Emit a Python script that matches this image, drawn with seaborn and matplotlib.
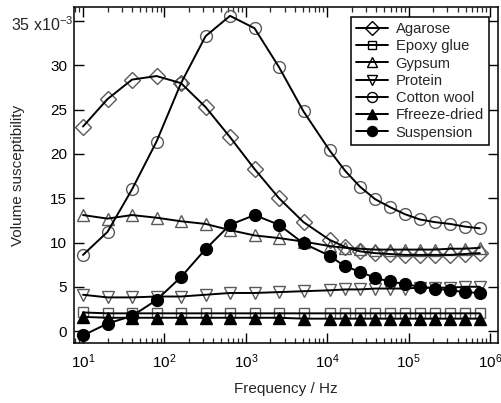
import matplotlib
matplotlib.use("Agg")
import matplotlib.pyplot as plt
from matplotlib.lines import Line2D
from matplotlib.ticker import LogLocator, NullFormatter
import seaborn as sns
import pandas as pd

# ---------------- data (volume susceptibility, x10^-3) ----------------
freq_low = [10, 20, 40, 80, 160, 320, 640, 1280, 2560, 5120]
freq_high = [1.07e4, 1.66e4, 2.53e4, 3.87e4, 5.9e4, 9.0e4, 1.38e5, 2.11e5, 3.23e5, 4.9e5, 7.5e5]

agarose = [23.1, 26.2, 28.4, 28.8, 28.0, 25.3, 21.9, 18.3, 15.0, 12.3,
           10.3, 9.5, 9.0, 8.8, 8.7, 8.6, 8.6, 8.6, 8.6, 8.7, 8.8]
epoxy = [2.1, 2.0, 2.0, 2.0, 2.0, 2.0, 2.0, 2.0, 2.0, 2.0,
         2.0, 2.0, 2.0, 2.0, 2.0, 2.0, 2.0, 2.0, 2.0, 2.0, 2.0]
gypsum = [13.1, 12.7, 13.1, 12.8, 12.4, 12.1, 11.4, 10.8, 10.5, 10.1,
          9.6, 9.4, 9.3, 9.2, 9.2, 9.2, 9.2, 9.2, 9.3, 9.3, 9.4]
protein = [4.1, 3.8, 3.8, 3.9, 3.9, 4.1, 4.3, 4.3, 4.4, 4.5,
           4.6, 4.7, 4.7, 4.8, 4.8, 4.8, 4.9, 4.9, 4.9, 5.0, 5.0]
cotton = [8.6, 11.2, 16.0, 21.4, 28.0, 33.3, 35.6, 34.2, 29.8, 24.8,
          20.4, 18.1, 16.3, 14.9, 14.0, 13.2, 12.6, 12.3, 12.1, 11.8, 11.6]
freeze = [1.6, 1.5, 1.5, 1.5, 1.5, 1.5, 1.5, 1.5, 1.5, 1.4,
          1.4, 1.4, 1.4, 1.4, 1.4, 1.4, 1.4, 1.4, 1.4, 1.4, 1.4]
suspension = [-0.5, 0.85, 1.7, 3.5, 6.1, 9.25, 12.0, 13.1, 12.0, 9.9,
              8.5, 7.3, 6.7, 6.0, 5.6, 5.3, 5.0, 4.8, 4.6, 4.4, 4.3]

series_names = ["Agarose", "Epoxy glue", "Gypsum", "Protein", "Cotton wool",
                "Ffreeze-dried", "Suspension"]
series_values = [agarose, epoxy, gypsum, protein, cotton, freeze, suspension]
x_tick_values = [1e1, 1e2, 1e3, 1e4, 1e5, 1e6]
y_tick_values = [0, 5, 10, 15, 20, 25, 30, 35]
y_tick_labels = ["0", "5", "10", "15", "20", "25", "30", ""]
top_label = "35 x10$^{-3}$"

# ---------------- styles ----------------
styles = {
    "Agarose": dict(marker="D", ms=8.0, mfc="none"),
    "Epoxy glue": dict(marker="s", ms=7.5, mfc="none"),
    "Gypsum": dict(marker="^", ms=8.5, mfc="none"),
    "Protein": dict(marker="v", ms=8.5, mfc="none"),
    "Cotton wool": dict(marker="o", ms=8.5, mfc="none"),
    "Ffreeze-dried": dict(marker="^", ms=8.5, mfc="black"),
    "Suspension": dict(marker="o", ms=8.5, mfc="black"),
}

sns.set_theme(style="ticks")
plt.rcParams["font.family"] = ["Liberation Sans", "DejaVu Sans"]
plt.rcParams["mathtext.fontset"] = "custom"
plt.rcParams["mathtext.rm"] = "Liberation Sans"
plt.rcParams["mathtext.it"] = "Liberation Sans:italic"
plt.rcParams["mathtext.bf"] = "Liberation Sans:bold"

freq_all = freq_low + freq_high
rows = []
for name, vals in zip(series_names, series_values):
    for f, v in zip(freq_all, vals):
        rows.append({"series": name, "freq": f, "chi": v})
df = pd.DataFrame(rows)

fig = plt.figure(figsize=(5.01, 4.03), dpi=100)
ax = fig.add_axes([74 / 501, 1 - 343 / 403, (498 - 74) / 501, (343 - 7) / 403])
ax.set_xscale("log")

gray = "#5a5a5a"
for name in series_names:
    sub = df[df["series"] == name]
    st = styles[name]
    edge = "black" if st["mfc"] == "black" else gray
    sns.lineplot(data=sub, x="freq", y="chi", ax=ax, color="black", lw=1.4,
                 sort=True, estimator=None, legend=False, zorder=3)
    ax.plot(sub["freq"], sub["chi"], linestyle="none", marker=st["marker"],
            ms=st["ms"], mfc=st["mfc"], mec=edge, mew=1.0, zorder=2)

ax.set_xlim(10 ** 0.8894, 10 ** 6.098)
ax.set_ylim(-1.35, 36.6)
ax.set_xticks(x_tick_values)
ax.xaxis.set_minor_locator(LogLocator(base=10, subs=range(2, 10), numticks=20))
ax.xaxis.set_minor_formatter(NullFormatter())
ax.set_yticks(y_tick_values)
ax.set_yticklabels(y_tick_labels)

ax.tick_params(axis="both", which="major", direction="in", length=7, width=1.0,
               top=True, right=True, labelsize=11, pad=5, colors="black")
ax.tick_params(axis="both", which="minor", direction="in", length=3.5, width=0.9,
               top=True, right=True)
ax.tick_params(axis="x", which="major", pad=7)
for sp in ax.spines.values():
    sp.set_linewidth(1.1)
    sp.set_color("black")
    sp.set_visible(True)

# top y label with exponent
fig.text(11 / 501, 1 - 25 / 403, top_label, ha="left", va="center", fontsize=11.5)

ax.set_xlabel("Frequency / Hz", fontsize=11, labelpad=8)
ax.set_ylabel("Volume susceptibility", fontsize=11)
ax.yaxis.set_label_coords((25 - 74) / 424, 0.5)
ax.grid(False)

handles = []
for name in series_names:
    st = styles[name]
    handles.append(Line2D([0], [0], color="black", lw=1.4, marker=st["marker"],
                          ms=st["ms"] * 0.85, mfc=st["mfc"], mec="black", mew=1.0))
leg = ax.legend(handles, series_names, loc="upper right",
                bbox_to_anchor=(489 / 501, 1 - 17 / 403), bbox_transform=fig.transFigure,
                fontsize=10.6, frameon=True, fancybox=False, handlelength=2.2,
                handletextpad=0.5, labelspacing=0.22, borderpad=0.35, borderaxespad=0)
leg.get_frame().set_edgecolor("black")
leg.get_frame().set_linewidth(1.1)
leg.get_frame().set_alpha(1)

fig.savefig("out.png", dpi=100)
